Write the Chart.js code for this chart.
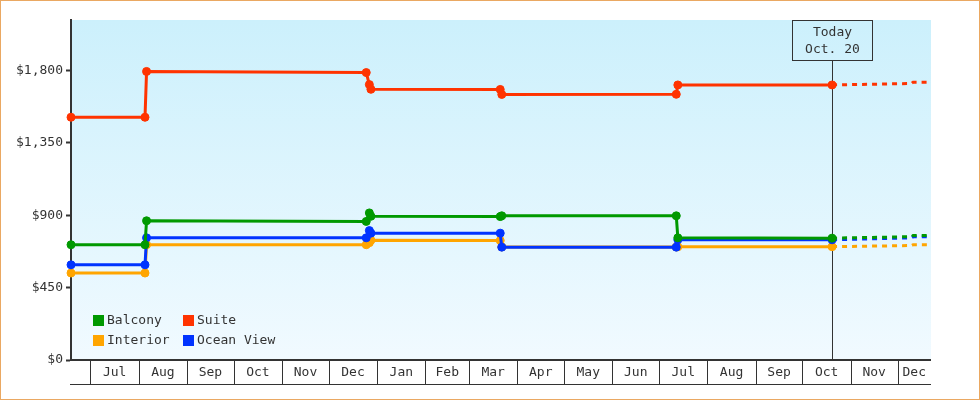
<!DOCTYPE html>
<html>
<head>
<meta charset="utf-8">
<script src="https://cdn.jsdelivr.net/npm/chart.js@4.4.1/dist/chart.umd.min.js"></script>
<style>
  html, body { margin: 0; padding: 0; background: #fff; }
  #wrap { width: 980px; height: 400px; }
</style>
</head>
<body>
<div id="wrap"><canvas id="fares" width="980" height="400"></canvas></div>
<script>
// price dates (shared by all series)
const dates = [
    '2013-06-18T12:00:00Z',
    '2013-08-05', '2013-08-06',
    '2013-12-25', '2013-12-27', '2013-12-28',
    '2014-03-21', '2014-03-22',
    '2014-07-12', '2014-07-13',
    '2014-10-20',
    '2014-12-10', '2014-12-11',
    '2014-12-22T12:00:00Z'
];
const balcony   = [717, 717, 866, 862, 915, 894, 892, 897, 897, 760, 758, 767, 774, 774];
const suite     = [1510, 1510, 1795, 1788, 1713, 1684, 1683, 1652, 1653, 1711, 1711, 1720, 1728, 1728];
const interior  = [541, 541, 717, 717, 730, 745, 743, 703, 703, 704, 705, 712, 717, 717];
const oceanView = [592, 592, 760, 760, 805, 789, 789, 702, 702, 748, 748, 760, 766, 766];

const seriesNames = ['Balcony', 'Suite', 'Interior', 'Ocean View'];
const seriesColors = ['#009900', '#ff3300', '#ffa500', '#0033ff'];
const seriesOrder = [0, 1, 3, 2];

const monthNames = ['Jan', 'Feb', 'Mar', 'Apr', 'May', 'Jun', 'Jul', 'Aug', 'Sep', 'Oct', 'Nov', 'Dec'];
const yTicks = [0, 450, 900, 1350, 1800];
const yMax = 2115;

const todayDate = '2014-10-20';
const todayLines = ['Today', 'Oct. 20'];
const axisStart = '2013-06-18T12:00:00Z';
const axisEnd = '2014-12-22T12:00:00Z';

const FONT = '13px "DejaVu Sans Mono", monospace';
const INK = '#333';

const today = Date.parse(todayDate);
const xs = dates.map(function(d) { return Date.parse(d); });
const values = [balcony, suite, interior, oceanView];

const datasets = seriesNames.map(function(name, i) {
    return {
        label: name,
        data: xs.map(function(x, j) { return { x: x, y: values[i][j] }; }),
        borderColor: seriesColors[i],
        backgroundColor: seriesColors[i],
        borderWidth: 3,
        tension: 0,
        clip: false,
        order: seriesOrder[i],
        pointBorderWidth: 1,
        pointRadius: function(ctx) {
            return ctx.parsed && ctx.parsed.x > today ? 0 : 4;
        },
        segment: {
            borderDash: function(ctx) {
                return ctx.p0.parsed.x >= today ? [5, 5] : undefined;
            }
        }
    };
});

const plotBackground = {
    id: 'plotBackground',
    beforeDraw(chart) {
        const a = chart.chartArea;
        const ctx = chart.ctx;
        const g = ctx.createLinearGradient(0, a.top, 0, a.bottom);
        g.addColorStop(0, '#ccf0fc');
        g.addColorStop(1, '#f1faff');
        ctx.save();
        ctx.fillStyle = g;
        ctx.fillRect(a.left, a.top, a.right - a.left, a.bottom - a.top);
        ctx.restore();
    }
};

const todayMarker = {
    id: 'todayMarker',
    beforeDatasetsDraw(chart) {
        const a = chart.chartArea;
        const ctx = chart.ctx;
        const x = Math.round(chart.scales.x.getPixelForValue(today)) + 0.5;
        const w = 80, h = 40;
        ctx.save();
        ctx.strokeStyle = INK;
        ctx.lineWidth = 1;
        ctx.beginPath();
        ctx.moveTo(x, a.top + h);
        ctx.lineTo(x, a.bottom);
        ctx.stroke();
        ctx.strokeRect(x - w / 2, a.top + 0.5, w, h);
        ctx.fillStyle = INK;
        ctx.font = FONT;
        ctx.textAlign = 'center';
        ctx.textBaseline = 'middle';
        ctx.fillText(todayLines[0], x, a.top + 12.5);
        ctx.fillText(todayLines[1], x, a.top + 30);
        ctx.restore();
    }
};

const monthAxis = {
    id: 'monthAxis',
    afterDraw(chart) {
        const a = chart.chartArea;
        const sx = chart.scales.x;
        const ctx = chart.ctx;
        const lo = sx.min, hi = sx.max;
        const y0 = a.bottom, y1 = a.bottom + 24;
        ctx.save();
        ctx.fillStyle = INK;
        ctx.fillRect(a.left - 1, y0 - 1, a.right - a.left + 1, 2);
        ctx.fillRect(a.left - 1, y1, a.right - a.left + 1, 1);
        ctx.font = FONT;
        ctx.textAlign = 'center';
        ctx.textBaseline = 'middle';
        const d0 = new Date(lo);
        let yr = d0.getUTCFullYear(), mo = d0.getUTCMonth();
        while (true) {
            const start = Date.UTC(yr, mo, 1);
            const end = Date.UTC(yr, mo + 1, 1);
            if (start > hi) break;
            if (start >= lo) {
                const px = Math.round(sx.getPixelForValue(start));
                ctx.fillRect(px, y0, 1, y1 - y0);
            }
            const p0 = sx.getPixelForValue(Math.max(start, lo));
            const p1 = sx.getPixelForValue(Math.min(end, hi));
            if (p1 - p0 >= 30) {
                ctx.fillText(monthNames[mo], (p0 + p1) / 2, y0 + 13);
            }
            mo++;
            if (mo > 11) { mo = 0; yr++; }
        }
        ctx.restore();
    }
};

const boxLegend = {
    id: 'boxLegend',
    afterDraw(chart) {
        const a = chart.chartArea;
        const ctx = chart.ctx;
        ctx.save();
        ctx.font = FONT;
        ctx.textAlign = 'left';
        ctx.textBaseline = 'middle';
        chart.data.datasets.forEach(function(ds, i) {
            const col = i % 2, row = Math.floor(i / 2);
            const x = a.left + 22 + col * 90;
            const y = a.bottom - 45 + row * 20;
            ctx.fillStyle = ds.borderColor;
            ctx.fillRect(x, y, 11, 11);
            ctx.fillStyle = INK;
            ctx.fillText(ds.label, x + 14, y + 6);
        });
        ctx.restore();
    }
};

const pageBorder = {
    id: 'pageBorder',
    afterDraw(chart) {
        const ctx = chart.ctx;
        ctx.save();
        ctx.strokeStyle = '#eaa862';
        ctx.lineWidth = 1;
        ctx.strokeRect(0.5, 0.5, chart.width - 1, chart.height - 1);
        ctx.restore();
    }
};

new Chart(document.getElementById('fares'), {
    type: 'line',
    data: { datasets: datasets },
    options: {
        responsive: false,
        animation: false,
        events: [],
        layout: { padding: { top: 20, right: 49, left: 0, bottom: 0 } },
        plugins: {
            legend: { display: false },
            tooltip: { enabled: false }
        },
        scales: {
            x: {
                type: 'linear',
                min: Date.parse(axisStart),
                max: Date.parse(axisEnd),
                ticks: { display: false },
                grid: { display: false },
                border: { display: false },
                afterFit: function(s) { s.height = 40; }
            },
            y: {
                min: 0,
                max: yMax,
                afterFit: function(s) { s.width = 71; },
                afterBuildTicks: function(s) {
                    s.ticks = yTicks.map(function(v) { return { value: v }; });
                },
                ticks: {
                    color: INK,
                    padding: 3,
                    font: { family: '"DejaVu Sans Mono", monospace', size: 13 },
                    callback: function(v) { return '$' + v.toLocaleString('en-US'); }
                },
                grid: {
                    drawOnChartArea: false,
                    drawTicks: true,
                    tickLength: 5,
                    tickWidth: 2,
                    tickColor: INK
                },
                border: { display: true, color: INK, width: 2 }
            }
        }
    },
    plugins: [plotBackground, todayMarker, monthAxis, boxLegend, pageBorder]
});
</script>
</body>
</html>
